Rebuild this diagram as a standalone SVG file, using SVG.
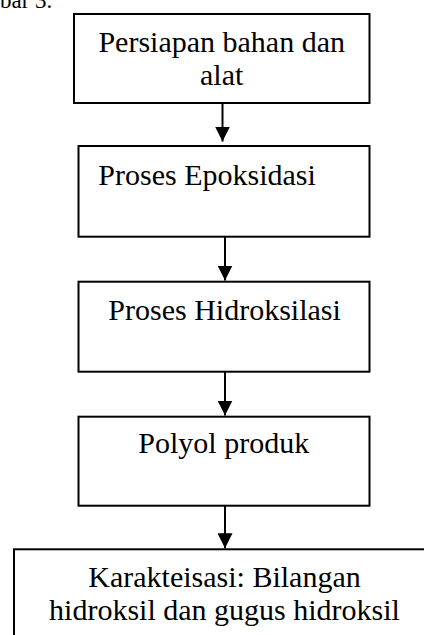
<svg xmlns="http://www.w3.org/2000/svg" width="424" height="635" viewBox="0 0 424 635">
<defs>
<style>
.box{fill:#fff;stroke:#000;stroke-width:2}
.t{font-family:"Liberation Serif","Times New Roman",serif;font-size:30px;fill:#000}
.c{stroke:#000;stroke-width:2;fill:none}
</style>
<marker id="ah" viewBox="0 0 15 15" refX="15" refY="7.5" markerWidth="15" markerHeight="15" markerUnits="userSpaceOnUse" orient="auto">
<path d="M0,0 L15,7.5 L0,15 Z" fill="#000"/>
</marker>
</defs>
<rect width="424" height="635" fill="#fff"/>
<text class="t" x="0" y="8" style="font-size:23px">bar 3.</text>
<g id="n1">
<rect class="box" x="74" y="14" width="295.5" height="89"/>
<text class="t" x="221.7" y="51.7" text-anchor="middle">Persiapan bahan dan</text>
<text class="t" x="221.7" y="85" text-anchor="middle">alat</text>
</g>
<g id="n2">
<rect class="box" x="78.5" y="146" width="291" height="90.7"/>
<text class="t" x="98.3" y="185">Proses Epoksidasi</text>
</g>
<g id="n3">
<rect class="box" x="78.5" y="281.7" width="291" height="90"/>
<text class="t" x="108.3" y="320">Proses Hidroksilasi</text>
</g>
<g id="n4">
<rect class="box" x="78.5" y="416.7" width="291" height="89"/>
<text class="t" x="138.3" y="453.3">Polyol produk</text>
</g>
<g id="n5">
<rect class="box" x="14" y="549.3" width="420" height="100"/>
<text class="t" x="224.5" y="586.7" text-anchor="middle">Karakteisasi: Bilangan</text>
<text class="t" x="224.5" y="620" text-anchor="middle">hidroksil dan gugus hidroksil</text>
</g>
<g id="connectors">
<line class="c" x1="222.5" y1="103" x2="222.5" y2="141.5" marker-end="url(#ah)"/>
<line class="c" x1="225" y1="236.7" x2="225" y2="280.5" marker-end="url(#ah)"/>
<line class="c" x1="225" y1="371.7" x2="225" y2="415.5" marker-end="url(#ah)"/>
<line class="c" x1="225" y1="505.7" x2="225" y2="548.3" marker-end="url(#ah)"/>
</g>
</svg>
